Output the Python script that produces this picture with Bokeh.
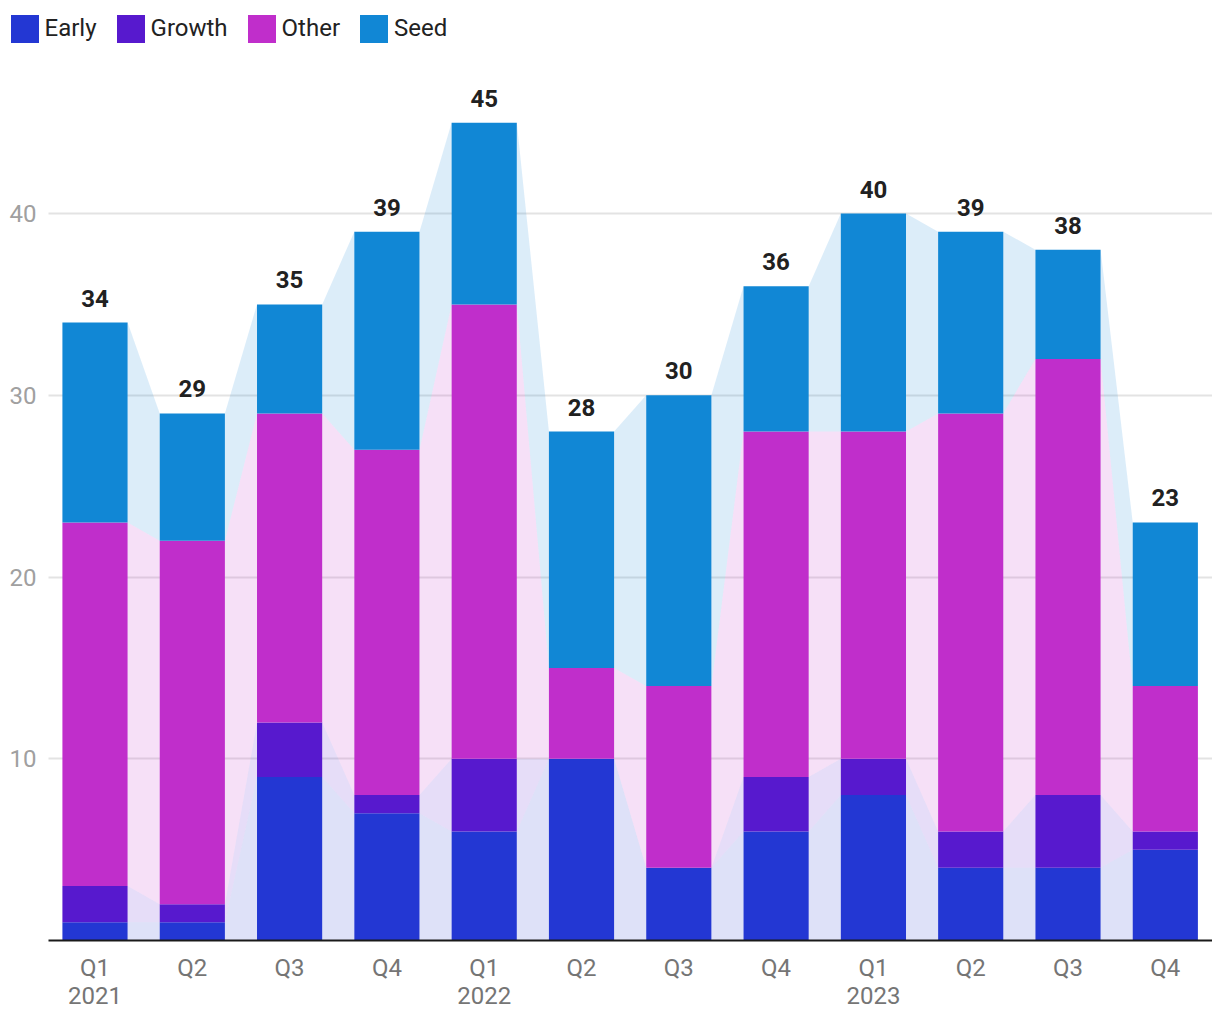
import numpy as np
from bokeh.plotting import figure
from bokeh.models import Range1d, FixedTicker, ColumnDataSource, Legend, LegendItem
from bokeh.embed import file_html
from bokeh.resources import INLINE
from bokeh.core.properties import value

# ---- data ----
quarters = ["Q1", "Q2", "Q3", "Q4", "Q1", "Q2", "Q3", "Q4", "Q1", "Q2", "Q3", "Q4"]
years = ["2021", "", "", "", "2022", "", "", "", "2023", "", "", ""]
series = ["Early", "Growth", "Other", "Seed"]
early = [1, 1, 9, 7, 6, 10, 4, 6, 8, 4, 4, 5]
growth = [2, 1, 3, 1, 4, 0, 0, 3, 2, 2, 4, 1]
other = [20, 20, 17, 19, 25, 5, 10, 19, 18, 23, 24, 8]
seed = [11, 7, 6, 12, 10, 13, 16, 8, 12, 10, 6, 9]
y_ticks = [10, 20, 30, 40]

colors = ["#2337D3", "#5719CE", "#C02ECB", "#1187D5"]
FONT = "Roboto"
FS = "24px"
BAR_W = 0.67

n = len(quarters)
x = list(range(n))
vals = np.array([early, growth, other, seed], dtype=float)
cum = np.vstack([np.zeros(n), np.cumsum(vals, axis=0)])
totals = cum[-1]

src = ColumnDataSource(dict(x=x, Early=early, Growth=growth, Other=other, Seed=seed,
                            total=list(totals)))

FRAME_W, FRAME_H = 1204, 932
PX_PER_CAT = 97.3
PX_PER_UNIT = 18.175
X0, X1 = -0.478, 11.485            # visible category span (plot area proper)
XSTART = X0 - 40 / PX_PER_CAT      # room on the left for the value labels

p = figure(frame_width=FRAME_W, frame_height=FRAME_H, output_backend="svg",
           toolbar_location=None,
           x_range=Range1d(XSTART, XSTART + FRAME_W / PX_PER_CAT),
           y_range=Range1d(0, FRAME_H / PX_PER_UNIT),
           min_border_left=8, min_border_right=0, min_border_top=8, min_border_bottom=10)
p.outline_line_color = None
p.background_fill_color = "white"

# horizontal grid restricted to the plot area
grid = p.ygrid[0]
grid.ticker = FixedTicker(ticks=y_ticks)
grid.grid_line_color = "#e3e3e3"
grid.grid_line_width = 2
if "cross_bounds" in grid.properties():
    grid.cross_bounds = (X0, X1)
else:
    grid.grid_line_color = None
    p.segment(x0=X0, x1=X1, y0=y_ticks, y1=y_ticks, line_color="#e3e3e3",
              line_width=2, level="underlay")

# connecting translucent bands between neighbouring bars
for k in range(4):
    xs, ys = [], []
    for i in range(n - 1):
        xl = x[i] + BAR_W / 2
        xr = x[i + 1] - BAR_W / 2
        xs.append([xl, xr, xr, xl])
        ys.append([cum[k][i], cum[k][i + 1], cum[k + 1][i + 1], cum[k + 1][i]])
    p.patches(xs, ys, fill_color=colors[k], fill_alpha=0.15, line_color=None)

bars = p.vbar_stack(series, x="x", width=BAR_W, color=colors, line_color=None, source=src)

p.text(x="x", y="total", text="total", source=src, text_align="center",
       text_baseline="bottom", y_offset=-16, text_font=value(FONT),
       text_font_size=FS, text_font_style="bold", text_color="#212121")

# value-axis labels
p.text(x=[X0] * len(y_ticks), y=y_ticks, text=[str(t) for t in y_ticks],
       x_offset=-12, text_align="right", text_baseline="middle",
       text_font=value(FONT), text_font_size=FS, text_color="#a0a0a0")
p.yaxis.visible = False

# category axis
p.xaxis.bounds = (X0, X1)
p.xaxis.ticker = FixedTicker(ticks=x)
p.xaxis.major_label_overrides = {i: (quarters[i] + ("\n" + years[i] if years[i] else ""))
                                 for i in x}
p.xaxis.major_tick_line_color = None
p.xaxis.minor_tick_line_color = None
p.xaxis.axis_line_color = "#1a1a1a"
p.xaxis.axis_line_width = 2
p.xaxis.major_label_text_font = FONT
p.xaxis.major_label_text_font_size = FS
p.xaxis.major_label_text_color = "#757575"
p.xaxis.major_label_text_line_height = 1.0
p.xaxis.major_label_standoff = 7
p.xgrid.grid_line_color = None

# legend, top-left
lg = Legend(items=[LegendItem(label=s, renderers=[r]) for s, r in zip(series, bars)],
            orientation="horizontal", location=(-1.5, FRAME_H - 2.5 - 35),
            glyph_width=35, glyph_height=35, label_standoff=3, spacing=16,
            padding=0, margin=0, border_line_color=None, background_fill_alpha=0,
            label_text_font=FONT, label_text_font_size=FS, label_text_color="#222222")
p.add_layout(lg)

open("out.html", "w").write(file_html(p, INLINE))
